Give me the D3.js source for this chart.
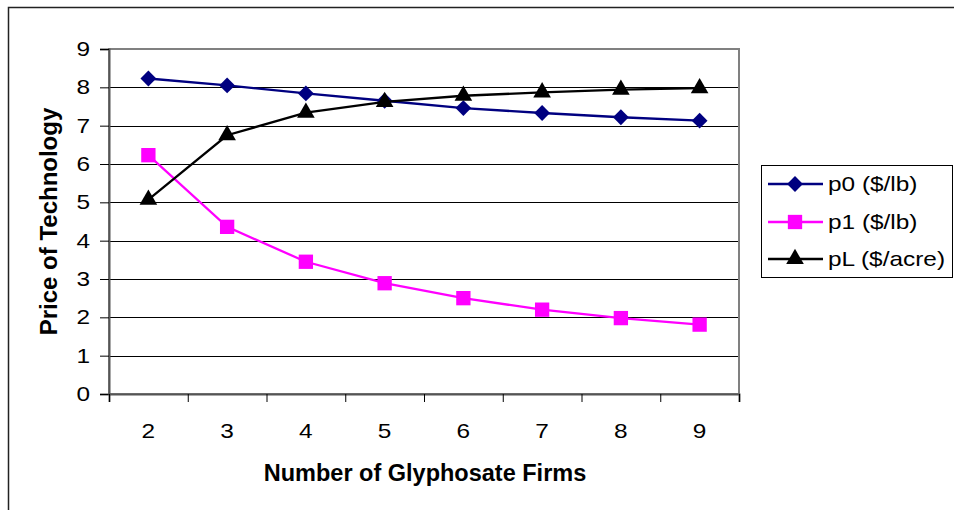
<!DOCTYPE html>
<html>
<head>
<meta charset="utf-8">
<script src="https://cdn.jsdelivr.net/npm/d3@7"></script>
<style>
  body { margin: 0; background: #fff; }
  svg { display: block; font-family: "Liberation Sans", Arial, sans-serif; }
</style>
</head>
<body>
<svg id="graph" width="954" height="510"></svg>
<script>
const firms = [2, 3, 4, 5, 6, 7, 8, 9];
const p0 = [8.23, 8.05, 7.84, 7.65, 7.46, 7.33, 7.22, 7.13];
const p1 = [6.23, 4.36, 3.45, 2.89, 2.5, 2.2, 1.98, 1.81];
const pL = [5.07, 6.75, 7.34, 7.62, 7.78, 7.87, 7.94, 7.98];
const seriesNames = ["p0 ($/lb)", "p1 ($/lb)", "pL ($/acre)"];
const yTicks = [0, 1, 2, 3, 4, 5, 6, 7, 8, 9];

const series = [
  { name: seriesNames[0], values: p0, color: "#000080", symbol: "diamond" },
  { name: seriesNames[1], values: p1, color: "#ff00ff", symbol: "square" },
  { name: seriesNames[2], values: pL, color: "#000000", symbol: "triangle" }
];

const margin = { top: 49, right: 215, bottom: 116, left: 109 };
const width = 954;
const height = 510;
// regular text in the original is a little wider than Arial
const stretch = "scale(1.22,1)";

const svg = d3.select("#graph");

// outer chart frame (runs off the right and bottom edges)
svg.append("rect")
  .attr("x", 8.5).attr("y", 7.5)
  .attr("width", 1000).attr("height", 600)
  .attr("fill", "none").attr("stroke", "#222").attr("stroke-width", 1.5);

const x = d3.scaleBand()
  .domain(firms)
  .range([margin.left, width - margin.right])
  .paddingInner(0).paddingOuter(0);

const xEdge = d3.scaleLinear()
  .domain([0, firms.length])
  .range([margin.left, width - margin.right]);

const y = d3.scaleLinear()
  .domain([0, 9])
  .range([height - margin.bottom, margin.top]);

// gridlines
svg.append("g")
  .selectAll("line")
  .data(yTicks.slice(1, -1))
  .join("line")
  .attr("x1", margin.left).attr("x2", width - margin.right)
  .attr("y1", d => Math.round(y(d)) + 0.5).attr("y2", d => Math.round(y(d)) + 0.5)
  .attr("stroke", "#000").attr("stroke-width", 1);

// plot area border
svg.append("rect")
  .attr("x", margin.left).attr("y", margin.top)
  .attr("width", width - margin.right - margin.left)
  .attr("height", height - margin.bottom - margin.top)
  .attr("fill", "none").attr("stroke", "#808080").attr("stroke-width", 2);

// y axis
svg.append("g")
  .attr("transform", `translate(${margin.left},0)`)
  .call(d3.axisLeft(y).tickValues(yTicks).tickSize(9).tickFormat(d3.format("d")))
  .call(g => g.select(".domain").attr("stroke", "#555").attr("stroke-width", 2))
  .call(g => g.selectAll(".tick line").attr("stroke", "#000"))
  .call(g => g.selectAll(".tick text")
    .attr("x", 0)
    .attr("transform", `translate(-19,0) ${stretch}`)
    .attr("font-size", 20).attr("fill", "#000").attr("font-family", null));

// x axis: ticks on category edges, labels at centres
svg.append("g")
  .attr("transform", `translate(0,${height - margin.bottom})`)
  .call(d3.axisBottom(xEdge).ticks(firms.length).tickSize(8).tickFormat(""))
  .call(g => g.select(".domain").attr("stroke", "#555").attr("stroke-width", 2))
  .call(g => g.selectAll(".tick line").attr("stroke", "#000"));

svg.append("g")
  .attr("transform", `translate(0,${height - margin.bottom})`)
  .call(d3.axisBottom(x).tickSize(0).tickPadding(30))
  .call(g => g.select(".domain").remove())
  .call(g => g.selectAll(".tick text")
    .attr("transform", stretch)
    .attr("font-size", 20).attr("fill", "#000").attr("font-family", null));

// axis titles
svg.append("text")
  .attr("x", 425)
  .attr("y", 481)
  .attr("text-anchor", "middle")
  .attr("font-size", 23.5).attr("font-weight", "bold")
  .text("Number of Glyphosate Firms");

svg.append("text")
  .attr("transform", `translate(57,${(margin.top + height - margin.bottom) / 2}) rotate(-90)`)
  .attr("text-anchor", "middle")
  .attr("font-size", 24).attr("font-weight", "bold")
  .text("Price of Technology");

const symbolPath = (type) => {
  if (type === "diamond") return d3.symbol(d3.symbolSquare, 125)();
  if (type === "square") return d3.symbol(d3.symbolSquare, 205)();
  return d3.symbol(d3.symbolTriangle, 135)();
};
const symbolRotate = (type) => (type === "diamond" ? 45 : 0);

const line = d3.line()
  .x((d, i) => x(firms[i]) + x.bandwidth() / 2)
  .y(d => y(d));

series.forEach(s => {
  svg.append("path")
    .datum(s.values)
    .attr("fill", "none")
    .attr("stroke", s.color)
    .attr("stroke-width", 2.3)
    .attr("d", line);

  svg.append("g")
    .selectAll("path")
    .data(s.values)
    .join("path")
    .attr("transform", (d, i) =>
      `translate(${x(firms[i]) + x.bandwidth() / 2},${y(d)}) rotate(${symbolRotate(s.symbol)})`)
    .attr("d", symbolPath(s.symbol))
    .attr("fill", s.color);
});

// legend
const legend = svg.append("g");
legend.append("rect")
  .attr("x", 761.5).attr("y", 165.5)
  .attr("width", 191).attr("height", 112)
  .attr("fill", "#fff").attr("stroke", "#000").attr("stroke-width", 1);

const legendRows = [184, 222, 259];
series.forEach((s, i) => {
  const row = legend.append("g").attr("transform", `translate(0,${legendRows[i]})`);
  row.append("line")
    .attr("x1", 768).attr("x2", 823)
    .attr("stroke", s.color).attr("stroke-width", 2.3);
  row.append("path")
    .attr("transform", `translate(795,0) rotate(${symbolRotate(s.symbol)})`)
    .attr("d", symbolPath(s.symbol))
    .attr("fill", s.color);
  row.append("text")
    .attr("transform", `translate(828,0) ${stretch}`)
    .attr("dy", "0.35em")
    .attr("font-size", 20)
    .text(s.name);
});
</script>
</body>
</html>
